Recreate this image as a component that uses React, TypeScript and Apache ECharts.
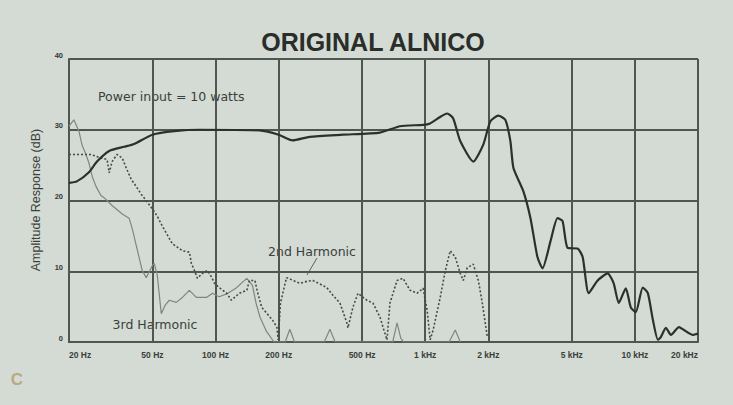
import React, { useEffect, useRef } from "react";
import * as echarts from "echarts";

const title = "ORIGINAL ALNICO";
const yAxisTitle = "Amplitude Response (dB)";
const powerNote = "Power input = 10 watts";

const tickFreqs = [20, 50, 100, 200, 500, 1000, 2000, 5000, 10000, 20000];
const tickLabels = ["20 Hz", "50 Hz", "100 Hz", "200 Hz", "500 Hz", "1 kHz", "2 kHz", "5 kHz", "10 kHz", "20 kHz"];
const gridFreqs = [50, 100, 200, 500, 1000, 2000, 5000, 10000, 20000];

// [frequency Hz, dB]
const mainResponse = [
  [20, 22.5], [21.8, 22.7], [24.9, 24], [27.2, 25.5], [31.1, 27], [36.7, 27.6], [40.9, 28],
  [50, 29.3], [63.6, 29.8], [83.8, 30], [162, 29.9], [200, 29.3], [233, 28.5], [281, 29],
  [404, 29.3], [608, 29.6], [758, 30.5], [978, 30.7], [1055, 30.9], [1178, 31.8], [1272, 32.3],
  [1360, 31.6], [1469, 28.4], [1696, 25.5], [1892, 27.9], [2046, 31.2], [2233, 32], [2411, 31.4],
  [2548, 28.4], [2635, 24.6], [2939, 21.3], [3177, 17.5], [3430, 12], [3626, 10.4], [3963, 14.3],
  [4276, 17.5], [4518, 17.1], [4776, 13.3], [5335, 13.2], [5636, 12], [6018, 6.9], [6646, 8.7],
  [7418, 9.7], [7923, 8.3], [8376, 5.5], [9052, 7.6], [9559, 4.9], [10100, 4.2], [10906, 7.7],
  [11530, 6.9], [12190, 3.1], [12880, 0.3], [13300, 0.7], [14060, 2], [14860, 1], [16220, 2.1],
  [17140, 1.7], [18920, 1], [20000, 1.2],
];

const secondHarmonic = [
  [20, 26.5], [25.5, 26.5], [28.4, 26], [30.4, 25.8], [31.1, 23.9], [32.1, 25.5], [33.9, 26.5],
  [35.9, 26], [37.5, 24.6], [39.6, 23], [41.8, 22], [44.2, 20.9], [47.2, 19.8], [50, 18.8],
  [52.7, 17.8], [55.7, 16.4], [62.2, 13.9], [69.5, 12.9], [75, 12.7], [76.7, 11.1], [79.3, 10.1],
  [81.9, 9], [86.6, 9.7], [91.5, 10.1], [95.6, 9.2], [98.8, 8.3], [104, 7.7], [113, 6.9],
  [119, 5.9], [130, 6.9], [141, 7.3], [145, 8.7], [154, 8.7], [159, 6.9], [166, 4.9], [175, 4.1],
  [187, 3.1], [196, 2.1], [199, 0.3], [204, 5.5], [218, 9.1], [252, 8.3], [275, 8.6], [291, 8.7],
  [339, 7.7], [363, 6.6], [392, 5.5], [423, 2.7], [428, 2], [452, 4.9], [478, 6.9], [527, 5.9],
  [563, 5.5], [609, 3.5], [629, 2.1], [657, 0.3], [679, 5.5], [734, 8.7], [784, 9], [847, 7.3],
  [915, 6.9], [977, 7.6], [1021, 4.5], [1056, 0.3], [1091, 1.7], [1179, 6.3], [1245, 10],
  [1316, 12.9], [1391, 12], [1469, 9.7], [1519, 8.7], [1587, 10.5], [1695, 11], [1792, 8.7],
  [1872, 5.5], [1978, 0.7],
];

const thirdHarmonic = [
  [20, 30.5], [21.1, 31.4], [22.3, 29.8], [23.1, 27.8], [24.1, 26.5], [24.9, 25.3], [25.8, 23.4],
  [26.9, 22], [28.4, 20.7], [29.4, 20.4], [32.1, 19.3], [35.9, 18.1], [38.7, 17.5], [40, 16.1],
  [44.7, 10.1], [46.7, 9.1], [50, 10.8], [51, 11.1], [52.7, 9.5], [55.1, 4], [57.5, 5.2],
  [60.2, 5.9], [65, 5.6], [69.5, 6.3], [75, 7.3], [81, 6.3], [90.5, 6.3], [96.7, 6.9], [104, 6.4],
  [113, 6.8], [125, 7.6], [135, 8.5], [141, 9], [150, 8], [156, 5.5], [163, 3.5], [175, 1.5],
  [190, 0], [215, 0], [226, 1.8], [238, 0], [330, 0], [351, 1.8], [372, 0], [700, 0], [734, 2.7],
  [765, 0.5], [790, 0], [1300, 0], [1391, 1.7], [1470, 0],
];

const BG = "#d3dbd4";
const GRID = "#50564f";
const INK = "#2c302c";

export default function App() {
  const ref = useRef<HTMLDivElement>(null);

  useEffect(() => {
    if (!ref.current) return;
    const chart = echarts.init(ref.current, undefined, { renderer: "svg" });
    const fmt = (v: number) => {
      const i = tickFreqs.findIndex((f) => Math.abs(f - v) < f * 1e-3);
      return i >= 0 ? tickLabels[i] : "";
    };
    chart.setOption({
      animation: false,
      backgroundColor: BG,
      grid: { left: 69, right: 35, top: 59, bottom: 63 },
      title: {
        text: title,
        left: 368,
        top: 24,
        textAlign: "center",
        textStyle: { fontFamily: "Liberation Sans", fontWeight: "bold", fontSize: 25, color: "#2a2d2a" },
      },
      xAxis: {
        type: "log",
        logBase: 10,
        min: 20,
        max: 20000,
        axisLine: { show: true, lineStyle: { color: GRID, width: 2 } },
        axisTick: { show: false },
        splitLine: { show: false },
        minorSplitLine: { show: false },
        axisLabel: {
          customValues: tickFreqs,
          formatter: fmt,
          fontFamily: "Liberation Sans",
          fontWeight: "bold",
          fontSize: 8.5,
          color: "#3a3f3b",
          margin: 8,
          alignMinLabel: "left",
          alignMaxLabel: "right",
        },
      },
      yAxis: {
        type: "value",
        min: 0,
        max: 40,
        interval: 10,
        axisLine: { show: true, lineStyle: { color: GRID, width: 2 } },
        axisTick: { show: false },
        splitLine: { show: true, lineStyle: { color: GRID, width: 2 } },
        axisLabel: {
          fontFamily: "Liberation Sans",
          fontWeight: "bold",
          fontSize: 7.5,
          color: "#333833",
          margin: 6,
          verticalAlign: "bottom",
        },
      },
      graphic: [
        {
          type: "text",
          x: 36,
          y: 200,
          rotation: Math.PI / 2,
          style: {
            text: yAxisTitle,
            fontFamily: "Liberation Sans",
            fontSize: 12.5,
            fill: "#3a3f3b",
            align: "center",
            verticalAlign: "middle",
          },
        },
        {
          type: "text",
          x: 98,
          y: 96,
          style: {
            text: powerNote,
            fontFamily: "DejaVu Sans",
            fontSize: 12.5,
            fill: "#3a3f3b",
            align: "left",
            verticalAlign: "middle",
          },
        },
        {
          type: "text",
          x: 312,
          y: 251,
          style: {
            text: "2nd Harmonic",
            fontFamily: "DejaVu Sans",
            fontSize: 12.5,
            fill: "#3a3f3b",
            align: "center",
            verticalAlign: "middle",
          },
        },
        {
          type: "line",
          shape: { x1: 317, y1: 258, x2: 307, y2: 275 },
          style: { stroke: "#5a605a", lineWidth: 1 },
        },
        {
          type: "text",
          x: 155,
          y: 324,
          style: {
            text: "3rd Harmonic",
            fontFamily: "DejaVu Sans",
            fontSize: 12.5,
            fill: "#3a3f3b",
            align: "center",
            verticalAlign: "middle",
          },
        },
        {
          type: "text",
          x: 17,
          y: 379,
          style: {
            text: "C",
            fontFamily: "Liberation Sans",
            fontWeight: "bold",
            fontSize: 17,
            fill: "#b39a68",
            opacity: 0.8,
            align: "center",
            verticalAlign: "middle",
          },
        },
      ],
      series: [
        {
          name: "3rd Harmonic",
          type: "line",
          data: thirdHarmonic,
          showSymbol: false,
          silent: true,
          lineStyle: { color: "#7f8680", width: 1.2 },
          z: 3,
        },
        {
          name: "2nd Harmonic",
          type: "line",
          data: secondHarmonic,
          showSymbol: false,
          silent: true,
          lineStyle: { color: "#454a45", width: 1.6, type: [2, 2] },
          z: 4,
        },
        {
          name: "Response",
          type: "line",
          data: mainResponse,
          showSymbol: false,
          silent: true,
          smooth: 0.2,
          lineStyle: { color: INK, width: 2.2 },
          z: 5,
          markLine: {
            silent: true,
            symbol: ["none", "none"],
            label: { show: false },
            lineStyle: { color: GRID, width: 2, type: "solid" },
            data: gridFreqs.map((f) => ({ xAxis: f })),
            z: 1,
          },
        },
      ],
    });
    return () => chart.dispose();
  }, []);

  return (
    <div
      ref={ref}
      style={{ position: "fixed", left: 0, top: 0, width: 733, height: 405, background: BG }}
    />
  );
}
